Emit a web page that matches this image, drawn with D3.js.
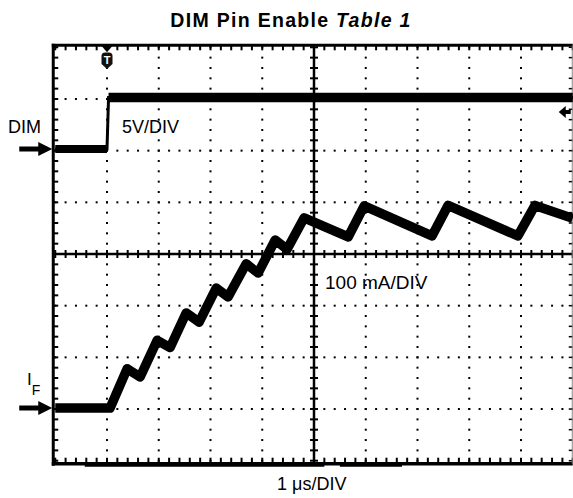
<!DOCTYPE html>
<html>
<head>
<meta charset="utf-8">
<script src="https://cdn.jsdelivr.net/npm/d3@7"></script>
<style>
  body { margin: 0; background: #fff; }
  text { font-family: "Liberation Sans", Arial, Helvetica, sans-serif; fill: #000; }
</style>
</head>
<body>
<div id="scope"></div>
<script>
// screen divisions of the scope
var xDivs = 10, yDivs = 8;

// DIM pin voltage trace (time in div, level in div)
var dimTime = [0, 1.0, 1.03, 10];
var dimLevel = [6.03, 6.03, 7.03, 7.03];

// LED current trace I_F (time in div, level in div)
var ifTime = [0, 1.06, 1.39, 1.64, 1.97, 2.22, 2.53, 2.78, 3.11, 3.34, 3.69, 3.92,
              4.25, 4.48, 4.81, 5.66, 5.97, 7.28, 7.59, 8.94, 9.27, 10];
var ifLevel = [1.02, 1.02, 1.78, 1.62, 2.33, 2.19, 2.86, 2.68, 3.34, 3.17, 3.81, 3.63,
               4.27, 4.09, 4.70, 4.33, 4.93, 4.35, 4.94, 4.35, 4.94, 4.69];

// markers: channel grounds, trigger time and trigger level
var dimGround = 6.03, ifGround = 1.02;
var trigTime = 1.0, trigLevel = 6.75;

// texts
var titleMain = "DIM Pin Enable ", titleItalic = "Table 1";
var dimLabel = "DIM", dimScale = "5V/DIV";
var ifScale = "100 mA/DIV", timeScale = "1 μs/DIV";

var width = 573, height = 498;

var svg = d3.select("#scope")
    .append("svg")
    .attr("width", width)
    .attr("height", height);

svg.append("rect")
    .attr("width", width)
    .attr("height", height)
    .attr("fill", "#fff");

var x = d3.scaleLinear().domain([0, xDivs]).range([55.25, 572.75]);
var y = d3.scaleLinear().domain([0, yDivs]).range([460.7, 47.3]);

// dotted graticule
var minor = d3.range(0, xDivs * 5 + 1).map(function (d) { return d / 5; });
var minorY = d3.range(0, yDivs * 5 + 1).map(function (d) { return d / 5; });
var grid = svg.append("g").attr("fill", "#000");

d3.range(1, xDivs).filter(function (d) { return d != xDivs / 2; }).forEach(function (c) {
    grid.selectAll(null)
        .data(minorY)
        .enter()
        .append("rect")
        .attr("x", x(c) - 1)
        .attr("y", function (d) { return y(d) - 1; })
        .attr("width", 2)
        .attr("height", 2);
});
d3.range(1, yDivs).filter(function (d) { return d != yDivs / 2; }).forEach(function (r) {
    grid.selectAll(null)
        .data(minor)
        .enter()
        .append("rect")
        .attr("x", function (d) { return x(d) - 1; })
        .attr("y", y(r) - 1)
        .attr("width", 2)
        .attr("height", 2);
});

// centre cross with minor ticks
var axes = svg.append("g").attr("stroke", "#000");
axes.append("line")
    .attr("x1", x(0)).attr("x2", x(xDivs))
    .attr("y1", y(yDivs / 2)).attr("y2", y(yDivs / 2))
    .attr("stroke-width", 2.5);
axes.append("line")
    .attr("x1", x(xDivs / 2)).attr("x2", x(xDivs / 2))
    .attr("y1", y(0)).attr("y2", y(yDivs))
    .attr("stroke-width", 2.5);
axes.selectAll(".hx")
    .data(minor)
    .enter()
    .append("line")
    .attr("x1", function (d) { return x(d); })
    .attr("x2", function (d) { return x(d); })
    .attr("y1", y(yDivs / 2) - 4)
    .attr("y2", y(yDivs / 2) + 4)
    .attr("stroke-width", 2);
axes.selectAll(".vy")
    .data(minorY)
    .enter()
    .append("line")
    .attr("x1", x(xDivs / 2) - 4)
    .attr("x2", x(xDivs / 2) + 4)
    .attr("y1", function (d) { return y(d); })
    .attr("y2", function (d) { return y(d); })
    .attr("stroke-width", 2);

// edge ticks pointing inwards
axes.selectAll(".top")
    .data(minor)
    .enter()
    .append("line")
    .attr("x1", function (d) { return x(d); })
    .attr("x2", function (d) { return x(d); })
    .attr("y1", y(yDivs) - 2)
    .attr("y2", y(yDivs) + 3)
    .attr("stroke-width", 2);
axes.selectAll(".bot")
    .data(minor)
    .enter()
    .append("line")
    .attr("x1", function (d) { return x(d); })
    .attr("x2", function (d) { return x(d); })
    .attr("y1", y(0) - 3)
    .attr("y2", y(0) + 2)
    .attr("stroke-width", 2);
axes.selectAll(".lft")
    .data(minorY)
    .enter()
    .append("line")
    .attr("x1", x(0) - 2)
    .attr("x2", x(0) + 3)
    .attr("y1", function (d) { return y(d); })
    .attr("y2", function (d) { return y(d); })
    .attr("stroke-width", 2);
axes.selectAll(".rgt")
    .data(minorY)
    .enter()
    .append("line")
    .attr("x1", x(xDivs) - 4)
    .attr("x2", x(xDivs))
    .attr("y1", function (d) { return y(d); })
    .attr("y2", function (d) { return y(d); })
    .attr("stroke-width", 1.5);

// frame
axes.append("line")
    .attr("x1", x(0) - 3.5).attr("x2", x(xDivs))
    .attr("y1", y(yDivs) - 2).attr("y2", y(yDivs) - 2)
    .attr("stroke-width", 3);
axes.append("line")
    .attr("x1", x(0) - 2).attr("x2", x(0) - 2)
    .attr("y1", y(yDivs) - 3.5).attr("y2", y(0) + 5)
    .attr("stroke-width", 3);
axes.append("line")
    .attr("x1", x(0) - 3.5).attr("x2", x(xDivs))
    .attr("y1", y(0) + 3).attr("y2", y(0) + 3)
    .attr("stroke-width", 3.5);
axes.append("line")
    .attr("x1", x(0.57)).attr("x2", x(5.2))
    .attr("y1", y(0) + 5).attr("y2", y(0) + 5)
    .attr("stroke-width", 2);
axes.append("line")
    .attr("x1", x(5.5)).attr("x2", x(6.7))
    .attr("y1", y(0) + 5).attr("y2", y(0) + 5)
    .attr("stroke-width", 2);
axes.append("line")
    .attr("x1", x(xDivs) - 0.5).attr("x2", x(xDivs) - 0.5)
    .attr("y1", y(yDivs) - 2).attr("y2", y(0) + 3)
    .attr("stroke", "#888")
    .attr("stroke-width", 1);

// traces
var trace = d3.line()
    .x(function (d) { return x(d[0]); })
    .y(function (d) { return y(d[1]); });

var dimPts = d3.zip(dimTime, dimLevel);

// thin switching edge, then thick noisy-looking flat levels
svg.append("path")
    .datum(dimPts)
    .attr("fill", "none")
    .attr("stroke", "#000")
    .attr("stroke-width", 3)
    .attr("d", trace);

d3.pairs(dimPts)
    .filter(function (p) { return p[0][1] == p[1][1]; })
    .forEach(function (p) {
        svg.append("path")
            .datum(p)
            .attr("fill", "none")
            .attr("stroke", "#000")
            .attr("stroke-width", p[0][1] > dimGround ? 9.5 : 8)
            .attr("d", trace);
    });

svg.append("path")
    .datum(d3.zip(ifTime, ifLevel))
    .attr("fill", "none")
    .attr("stroke", "#000")
    .attr("stroke-width", 9.5)
    .attr("stroke-linejoin", "round")
    .attr("d", trace);

// ground arrows on the left
var arrow = "M-33,-2.5 L-14,-2.5 L-14,-7 L0,0 L-14,7 L-14,2.5 L-33,2.5 Z";
[dimGround, ifGround].forEach(function (g) {
    svg.append("path")
        .attr("d", arrow)
        .attr("fill", "#000")
        .attr("transform", "translate(" + (x(0) - 3) + "," + y(g) + ")");
});

// trigger position marker
var tx = x(trigTime);
svg.append("path")
    .attr("d", "M" + (tx - 6) + "," + (y(yDivs) - 2) + " L" + (tx + 6) + "," + (y(yDivs) - 2) + " L" + tx + "," + (y(yDivs) + 5) + " Z")
    .attr("fill", "#000");
svg.append("path")
    .attr("d", "M" + (tx - 5.5) + ",56 Q" + (tx - 5.5) + ",52.5 " + (tx - 2) + ",52.5 L" + (tx + 2) + ",52.5 Q" + (tx + 5.5) + ",52.5 " + (tx + 5.5) + ",56 L" + (tx + 5.5) + ",64 L" + tx + ",69 L" + (tx - 5.5) + ",64 Z")
    .attr("fill", "#111");
svg.append("text")
    .attr("x", tx)
    .attr("y", 64)
    .attr("text-anchor", "middle")
    .attr("font-size", 11)
    .attr("font-weight", "bold")
    .style("fill", "#fff")
    .text("T");

// trigger level marker on the right
var ty = y(trigLevel);
var rx = x(xDivs);
svg.append("path")
    .attr("d", "M" + (rx - 14) + "," + ty + " L" + (rx - 7) + "," + (ty - 6) + " L" + (rx - 7) + "," + (ty - 2) + " L" + (rx - 2) + "," + (ty - 2) + " L" + (rx - 2) + "," + (ty + 2) + " L" + (rx - 7) + "," + (ty + 2) + " L" + (rx - 7) + "," + (ty + 6) + " Z")
    .attr("fill", "#000");

// title
var title = svg.append("text")
    .attr("x", 291)
    .attr("y", 27)
    .attr("text-anchor", "middle")
    .attr("font-size", 19.5)
    .attr("font-weight", "bold")
    .attr("letter-spacing", 1.3);
title.append("tspan").text(titleMain);
title.append("tspan").attr("font-style", "italic").text(titleItalic);

// channel labels
svg.append("text")
    .attr("x", 8)
    .attr("y", 133)
    .attr("font-size", 18)
    .text(dimLabel);
svg.append("text")
    .attr("x", 122)
    .attr("y", 133)
    .attr("font-size", 18)
    .text(dimScale);
svg.append("text")
    .attr("x", 325)
    .attr("y", 289)
    .attr("font-size", 19)
    .text(ifScale);

var ifLab = svg.append("text")
    .attr("x", 27)
    .attr("y", 385)
    .attr("font-size", 17);
ifLab.append("tspan").text("I");
ifLab.append("tspan").attr("font-size", 14).attr("dy", 10).text("F");

svg.append("text")
    .attr("x", 277)
    .attr("y", 490)
    .attr("font-size", 18)
    .text(timeScale);
</script>
</body>
</html>
